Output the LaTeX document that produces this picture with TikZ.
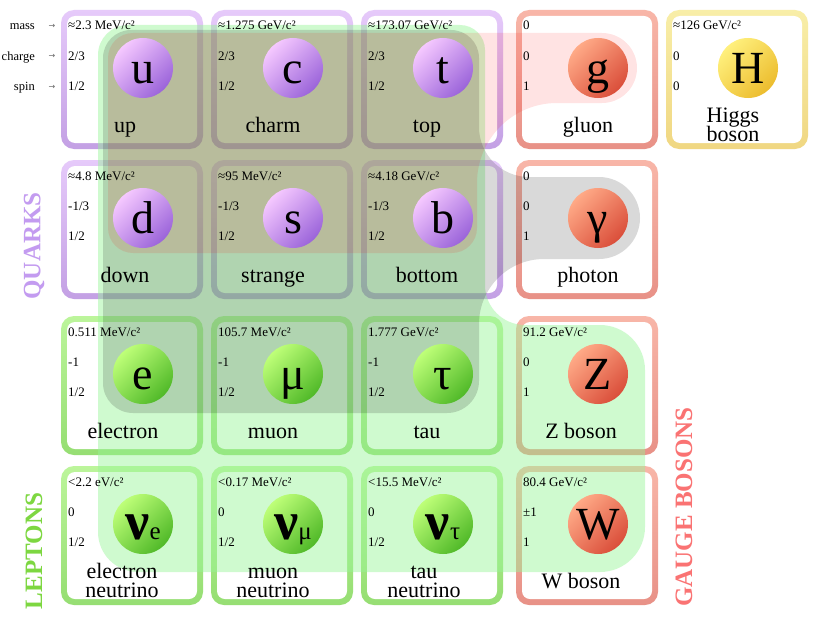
\documentclass[tikz,border=0pt]{standalone}
\usepackage{fontspec}
\setmainfont{Liberation Serif}
\newfontfamily\symfont{DejaVu Sans}
\definecolor{qbt}{RGB}{230,202,250}
\definecolor{qbb}{RGB}{195,160,228}
\definecolor{lbt}{RGB}{188,245,155}
\definecolor{lbb}{RGB}{150,222,115}
\definecolor{bbt}{RGB}{248,182,168}
\definecolor{bbb}{RGB}{232,145,135}
\definecolor{hbt}{RGB}{248,238,168}
\definecolor{hbb}{RGB}{240,215,130}
\definecolor{qct}{RGB}{245,200,255}
\definecolor{qcb}{RGB}{155,100,218}
\definecolor{lct}{RGB}{190,255,120}
\definecolor{lcb}{RGB}{80,185,40}
\definecolor{bct}{RGB}{255,170,135}
\definecolor{bcb}{RGB}{218,78,58}
\definecolor{hct}{RGB}{255,240,125}
\definecolor{hcb}{RGB}{236,188,45}
\definecolor{quarkc}{RGB}{195,155,240}
\definecolor{leptonc}{RGB}{125,215,65}
\definecolor{gaugec}{RGB}{250,115,115}
\definecolor{greenov}{RGB}{150,245,150}
\tikzset{
  outerbox/.style={rectangle, rounded corners=13pt, minimum width=142pt, minimum height=139pt, inner sep=0pt, outer sep=0pt},
  innerbox/.style={rectangle, rounded corners=8pt, fill=white, minimum width=130pt, minimum height=127pt, inner sep=0pt},
  quarkbox/.style={top color=qbt, bottom color=qbb},
  leptonbox/.style={top color=lbt, bottom color=lbb},
  bosonbox/.style={top color=bbt, bottom color=bbb},
  higgsbox/.style={top color=hbt, bottom color=hbb},
  ball/.style={circle, minimum size=60pt, inner sep=0pt},
  quarkball/.style={top color=qct, bottom color=qcb, shading angle=45},
  leptonball/.style={top color=lct, bottom color=lcb, shading angle=45},
  bosonball/.style={top color=bct, bottom color=bcb, shading angle=45},
  higgsball/.style={top color=hct, bottom color=hcb, shading angle=45},
  sym/.style={inner sep=0pt, font=\fontsize{46}{46}\selectfont},
  info/.style={anchor=base west, inner sep=0pt, font=\fontsize{13}{15}\selectfont},
  pnm/.style={anchor=base, inner sep=0pt, font=\fontsize{22}{24}\selectfont},
  grouplabel/.style={rotate=90, inner sep=0pt, font=\fontsize{25}{25}\selectfont\bfseries},
  sidelabel/.style={anchor=base east, inner sep=0pt, font=\fontsize{12.5}{14}\selectfont},
  sidearrow/.style={anchor=base, inner sep=0pt, text=black!60, font=\symfont\fontsize{8}{8}\selectfont},
  greenfill/.style={fill=greenov, fill opacity=0.45},
  grayfill/.style={fill=black, fill opacity=0.15},
  pinkfill/.style={fill=red, fill opacity=0.11},
}
\newcommand\pbox[4]{\node[outerbox,#4box] (#1) at (#2+71,#3+69.5) {};
  \node[innerbox] (#1in) at (#1.center) {};}
\newcommand\pball[5]{\node[ball,#4ball] (#1ball) at (#2+82,#3+58) {};
  \node[sym, anchor=base] (#1sym) at (#2+82,#3+73) {#5};}
\newcommand\pinfo[6]{\node[info] (#1m) at (#2+7,#3+20) {#4};
  \node[info] (#1q) at (#2+7,#3+50) {#5};
  \node[info] (#1s) at (#2+7,#3+80) {#6};}
\newcommand\pname[4]{\node[pnm] (#1n) at (#2,#3+122) {#4};}
\newcommand\pnametwo[5]{\node[pnm] (#1n) at (#2,#3+112) {#4};
  \node[pnm] (#1nb) at (#2,#3+131) {#5};}
\newcommand\nusym[1]{{\fontsize{54}{54}\selectfont\bfseries ν}{\fontsize{25}{25}\selectfont #1}}
\begin{document}
\begin{tikzpicture}[x=1pt,y=-1pt]
\path[use as bounding box, fill=white] (0,0) rectangle (821,626);
% boxes
\pbox{up}{61}{10}{quark}
\pbox{ch}{211}{10}{quark}
\pbox{tp}{361}{10}{quark}
\pbox{gl}{516}{10}{boson}
\pbox{hg}{666}{10}{higgs}
\pbox{dn}{61}{160}{quark}
\pbox{st}{211}{160}{quark}
\pbox{bt}{361}{160}{quark}
\pbox{ph}{516}{160}{boson}
\pbox{el}{61}{316}{lepton}
\pbox{mu}{211}{316}{lepton}
\pbox{ta}{361}{316}{lepton}
\pbox{zb}{516}{316}{boson}
\pbox{ne}{61}{466}{lepton}
\pbox{nm}{211}{466}{lepton}
\pbox{nt}{361}{466}{lepton}
\pbox{wb}{516}{466}{boson}
% overlays
\fill[greenfill] [rounded corners=30pt] (98,25) [rounded corners=25pt] -- (485,25) [rounded corners=40pt] -- (485,325) [rounded corners=45pt] -- (645,325) -- (645,572) [rounded corners=40pt] -- (98,572) [rounded corners=30pt] -- cycle;
\fill[grayfill] [rounded corners=28pt] (103,30) -- (479,30) [rounded corners=50pt] -- (479,177) [rounded corners=41pt] -- (640,177) -- (640,259) [rounded corners=65pt] -- (479,259) [rounded corners=32pt] -- (479,413) [rounded corners=30pt] -- (103,413) [rounded corners=28pt] -- cycle;
\fill[pinkfill] [rounded corners=25pt] (108,33) [rounded corners=35pt] -- (637,33) -- (637,103) [rounded corners=80pt] -- (477,103) [rounded corners=25pt] -- (477,253) -- (108,253) -- cycle;
% balls
\pball{up}{61}{10}{quark}{u}
\pball{ch}{211}{10}{quark}{c}
\pball{tp}{361}{10}{quark}{t}
\pball{gl}{516}{10}{boson}{g}
\pball{hg}{666}{10}{higgs}{H}
\pball{dn}{61}{160}{quark}{d}
\pball{st}{211}{160}{quark}{s}
\pball{bt}{361}{160}{quark}{b}
\pball{ph}{516}{160}{boson}{γ}
\pball{el}{61}{316}{lepton}{e}
\pball{mu}{211}{316}{lepton}{μ}
\pball{ta}{361}{316}{lepton}{τ}
\pball{zb}{516}{316}{boson}{Z}
\pball{ne}{61}{466}{lepton}{\nusym{e}}
\pball{nm}{211}{466}{lepton}{\nusym{μ}}
\pball{nt}{361}{466}{lepton}{\nusym{τ}}
\pball{wb}{516}{466}{boson}{W}
% info
\pinfo{up}{61}{10}{≈2.3 MeV/c²}{2/3}{1/2}
\pinfo{ch}{211}{10}{≈1.275 GeV/c²}{2/3}{1/2}
\pinfo{tp}{361}{10}{≈173.07 GeV/c²}{2/3}{1/2}
\pinfo{gl}{516}{10}{0}{0}{1}
\pinfo{hg}{666}{10}{≈126 GeV/c²}{0}{0}
\pinfo{dn}{61}{160}{≈4.8 MeV/c²}{-1/3}{1/2}
\pinfo{st}{211}{160}{≈95 MeV/c²}{-1/3}{1/2}
\pinfo{bt}{361}{160}{≈4.18 GeV/c²}{-1/3}{1/2}
\pinfo{ph}{516}{160}{0}{0}{1}
\pinfo{el}{61}{316}{0.511 MeV/c²}{-1}{1/2}
\pinfo{mu}{211}{316}{105.7 MeV/c²}{-1}{1/2}
\pinfo{ta}{361}{316}{1.777 GeV/c²}{-1}{1/2}
\pinfo{zb}{516}{316}{91.2 GeV/c²}{0}{1}
\pinfo{ne}{61}{466}{<2.2 eV/c²}{0}{1/2}
\pinfo{nm}{211}{466}{<0.17 MeV/c²}{0}{1/2}
\pinfo{nt}{361}{466}{<15.5 MeV/c²}{0}{1/2}
\pinfo{wb}{516}{466}{80.4 GeV/c²}{±1}{1}
% names
\pname{up}{125}{10}{up}
\pname{ch}{273}{10}{charm}
\pname{tp}{427}{10}{top}
\pname{gl}{588}{10}{gluon}
\pnametwo{hg}{733}{10}{Higgs}{boson}
\pname{dn}{125}{160}{down}
\pname{st}{273}{160}{strange}
\pname{bt}{427}{160}{bottom}
\pname{ph}{588}{160}{photon}
\pname{el}{123}{316}{electron}
\pname{mu}{273}{316}{muon}
\pname{ta}{427}{316}{tau}
\pname{zb}{581}{316}{Z boson}
\pnametwo{ne}{122}{466}{electron}{neutrino}
\pnametwo{nm}{273}{466}{muon}{neutrino}
\pnametwo{nt}{424}{466}{tau}{neutrino}
\pname{wb}{581}{466}{W boson}
% side labels
\node[sidelabel] (lmass) at (35,30) {mass};
\node[sidelabel] (lcharge) at (35,60) {charge};
\node[sidelabel] (lspin) at (35,90) {spin};
\node[sidearrow] (amass) at (52,29) {→};
\node[sidearrow] (acharge) at (52,59) {→};
\node[sidearrow] (aspin) at (52,89) {→};
\node[grouplabel, text=quarkc] (quarks) at (34,246) {QUARKS};
\node[grouplabel, text=leptonc] (leptons) at (34,551) {LEPTONS};
\node[grouplabel, text=gaugec] (gauge) at (684,507) {GAUGE BOSONS};
\end{tikzpicture}
\end{document}
